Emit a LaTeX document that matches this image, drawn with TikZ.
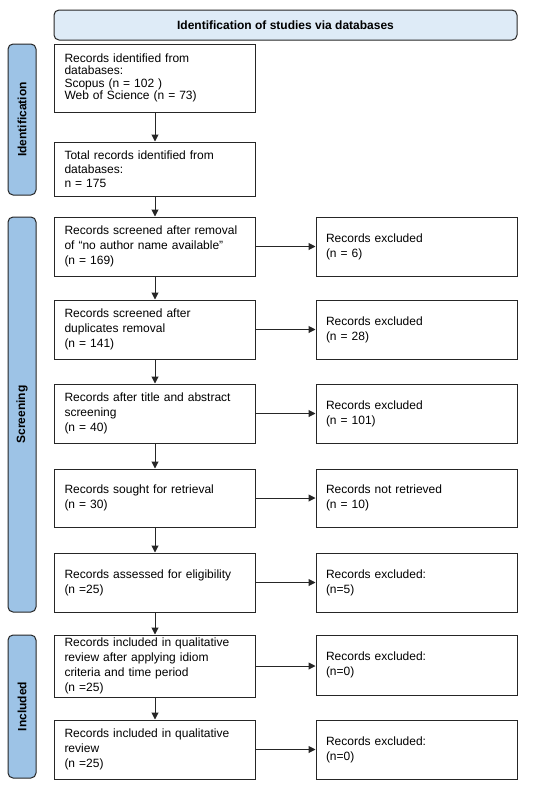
\documentclass[tikz,border=0pt]{standalone}
\usepackage{fontspec}
\setmainfont{Liberation Sans}
\usepackage{tikz}
\usetikzlibrary{positioning,arrows.meta}
\definecolor{titlefill}{HTML}{DEEBF7}
\definecolor{phasefill}{HTML}{9DC3E6}
\definecolor{edge}{HTML}{262626}

\begin{document}
\begin{tikzpicture}[x=1pt,y=-1pt,
    font=\fontsize{12}{15}\selectfont,
    recbox/.style={draw=edge, line width=1pt, minimum width=201pt, text width=181pt,
        inner xsep=10pt, inner ysep=2pt, align=left},
    phase/.style={draw=edge, line width=1pt, rounded corners=5pt, fill=phasefill,
        minimum height=28pt, rotate=90, font=\fontsize{12}{14}\selectfont\bfseries},
    flow/.style={-{Triangle[length=7pt,width=7pt]}, line width=1pt, edge}]
    \useasboundingbox (0,0) rectangle (550,788);

    % Header
    \node[draw=edge, line width=1pt, rounded corners=5pt, fill=titlefill,
        minimum width=463pt, minimum height=30pt, font=\fontsize{12}{14}\selectfont\bfseries]
        (head) at (285.5,25) {Identification of studies via databases};

    % Phase bars
    \node[phase, minimum width=151pt] (ident) at (22,119.5) {Identification};
    \node[phase, minimum width=395pt] (screen) at (22,414.5) {Screening};
    \node[phase, minimum width=143pt] (incl) at (22,706.5) {Included};

    % Main column
    \node[recbox, minimum height=68pt, font=\fontsize{12}{12.4}\selectfont] (found) at (155,78)
        {Records identified from\\databases:\\Scopus (n = 102 )\\Web of Science (n = 73)};
    \node[recbox, minimum height=54pt, font=\fontsize{12}{14}\selectfont] (total) at (155,169)
        {Total records identified from\\databases:\\n = 175};
    \node[recbox, minimum height=59pt] (noauth) at (155,246.5)
        {Records screened after removal\\of “no author name available”\\(n = 169)};
    \node[recbox, minimum height=59pt] (dupl) at (155,329.5)
        {Records screened after\\duplicates removal\\(n = 141)};
    \node[recbox, minimum height=59pt] (title) at (155,413.5)
        {Records after title and abstract\\screening\\(n = 40)};
    \node[recbox, minimum height=58pt] (sought) at (155,498)
        {Records sought for retrieval\\(n = 30)};
    \node[recbox, minimum height=59pt] (elig) at (155,582.5)
        {Records assessed for eligibility\\(n =25)};
    \node[recbox, minimum height=62pt] (idiom) at (155,666)
        {Records included in qualitative\\review after applying idiom\\criteria and time period\\(n =25)};
    \node[recbox, minimum height=59pt] (final) at (155,749.5)
        {Records included in qualitative\\review\\(n =25)};

    % Side column
    \node[recbox, minimum height=59pt] (ex1) at (416.5,246.5) {Records excluded\\(n = 6)};
    \node[recbox, minimum height=59pt] (ex2) at (416.5,329.5) {Records excluded\\(n = 28)};
    \node[recbox, minimum height=59pt] (ex3) at (416.5,413.5) {Records excluded\\(n = 101)};
    \node[recbox, minimum height=58pt] (ex4) at (416.5,498) {Records not retrieved\\(n = 10)};
    \node[recbox, minimum height=59pt] (ex5) at (416.5,582.5) {Records excluded:\\(n=5)};
    \node[recbox, minimum height=60pt] (ex6) at (416.5,665) {Records excluded:\\(n=0)};
    \node[recbox, minimum height=59pt] (ex7) at (416.5,749.5) {Records excluded:\\(n=0)};

    % Arrows
    \draw[flow] (found) -- (total);
    \draw[flow] (total) -- (noauth);
    \draw[flow] (noauth) -- (dupl);
    \draw[flow] (dupl) -- (title);
    \draw[flow] (title) -- (sought);
    \draw[flow] (sought) -- (elig);
    \draw[flow] (elig) -- (idiom);
    \draw[flow] (idiom) -- (final);

    \draw[flow] (noauth) -- (ex1);
    \draw[flow] (dupl) -- (ex2);
    \draw[flow] (title) -- (ex3);
    \draw[flow] (sought) -- (ex4);
    \draw[flow] (elig) -- (ex5);
    \draw[flow] (idiom.east) -- (ex6.west |- idiom.east);
    \draw[flow] (final) -- (ex7);
\end{tikzpicture}
\end{document}
